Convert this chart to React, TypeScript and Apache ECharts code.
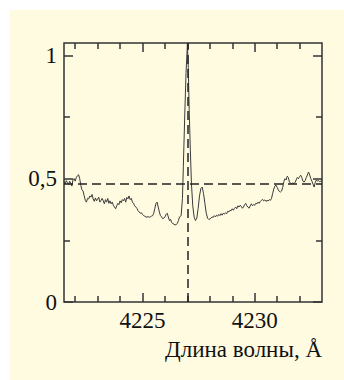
import React, { useEffect, useRef } from "react";
import * as echarts from "echarts";

// Wavelength (Å) and normalized intensity
const wavelengths = [
  4221.5, 4221.55, 4221.6, 4221.65, 4221.7, 4221.75, 4221.8, 4221.85, 4221.9, 4221.95,
  4222.0, 4222.05, 4222.1, 4222.15, 4222.2, 4222.25, 4222.3, 4222.35, 4222.4, 4222.45,
  4222.5, 4222.55, 4222.6, 4222.65, 4222.7, 4222.75, 4222.8, 4222.85, 4222.9, 4222.95,
  4223.0, 4223.05, 4223.1, 4223.15, 4223.2, 4223.25, 4223.3, 4223.35, 4223.4, 4223.45,
  4223.5, 4223.55, 4223.6, 4223.65, 4223.7, 4223.75, 4223.8, 4223.85, 4223.9, 4223.95,
  4224.0, 4224.05, 4224.1, 4224.15, 4224.2, 4224.25, 4224.3, 4224.35, 4224.4, 4224.45,
  4224.5, 4224.55, 4224.6, 4224.65, 4224.7, 4224.75, 4224.8, 4224.85, 4224.9, 4224.95,
  4225.0, 4225.05, 4225.1, 4225.15, 4225.2, 4225.25, 4225.3, 4225.35, 4225.4, 4225.45,
  4225.5, 4225.55, 4225.6, 4225.65, 4225.7, 4225.75, 4225.8, 4225.85, 4225.9, 4225.95,
  4226.0, 4226.05, 4226.1, 4226.15, 4226.2, 4226.25, 4226.3, 4226.35, 4226.4, 4226.45,
  4226.5, 4226.55, 4226.6, 4226.65, 4226.72, 4226.78, 4226.82, 4226.88, 4226.94, 4227.0,
  4227.04, 4227.08, 4227.13, 4227.18, 4227.24, 4227.3, 4227.36, 4227.42, 4227.48, 4227.54,
  4227.6, 4227.66, 4227.72, 4227.78, 4227.84, 4227.9, 4227.96,
  4228.05, 4228.1, 4228.15, 4228.2, 4228.25, 4228.3, 4228.35, 4228.4, 4228.45,
  4228.5, 4228.55, 4228.6, 4228.65, 4228.7, 4228.75, 4228.8, 4228.85, 4228.9, 4228.95,
  4229.0, 4229.05, 4229.1, 4229.15, 4229.2, 4229.25, 4229.3, 4229.35, 4229.4, 4229.45,
  4229.5, 4229.55, 4229.6, 4229.65, 4229.7, 4229.75, 4229.8, 4229.85, 4229.9, 4229.95,
  4230.0, 4230.05, 4230.1, 4230.15, 4230.2, 4230.25, 4230.3, 4230.35, 4230.4, 4230.45,
  4230.5, 4230.55, 4230.6, 4230.65, 4230.7, 4230.75, 4230.8, 4230.85, 4230.9, 4230.95,
  4231.0, 4231.05, 4231.1, 4231.15, 4231.2, 4231.25, 4231.3, 4231.35, 4231.4, 4231.45,
  4231.5, 4231.55, 4231.6, 4231.65, 4231.7, 4231.75, 4231.8, 4231.85, 4231.9, 4231.95,
  4232.0, 4232.05, 4232.1, 4232.15, 4232.2, 4232.25, 4232.3, 4232.35, 4232.4, 4232.45,
  4232.5, 4232.55, 4232.6, 4232.65, 4232.7, 4232.75, 4232.8, 4232.85, 4232.9, 4232.95,
  4233.0,
];

const intensity = [
  0.49, 0.478, 0.492, 0.485, 0.475, 0.49, 0.482, 0.47, 0.495, 0.5,
  0.49, 0.505, 0.512, 0.516, 0.5, 0.472, 0.455, 0.45, 0.43, 0.412,
  0.405, 0.42, 0.418, 0.43, 0.425, 0.436, 0.418, 0.408, 0.422, 0.41,
  0.418, 0.425, 0.405, 0.412, 0.42, 0.41, 0.398, 0.415, 0.405, 0.42,
  0.4, 0.41, 0.398, 0.405, 0.392, 0.385, 0.378, 0.39, 0.4, 0.395,
  0.41, 0.402, 0.415, 0.41, 0.42, 0.405, 0.424, 0.418, 0.43, 0.415,
  0.42, 0.405, 0.4, 0.39, 0.385, 0.38, 0.37, 0.365, 0.36, 0.362,
  0.355, 0.35, 0.348, 0.345, 0.344, 0.346, 0.344, 0.345, 0.348, 0.35,
  0.36, 0.38, 0.4, 0.405, 0.385, 0.365, 0.35, 0.345, 0.338, 0.34,
  0.345, 0.355, 0.36, 0.345, 0.33, 0.335, 0.322, 0.318, 0.316, 0.312,
  0.314, 0.318, 0.33, 0.345, 0.35, 0.42, 0.55, 0.75, 0.93, 1.045,
  0.95, 0.78, 0.62, 0.48, 0.39, 0.345, 0.33, 0.34, 0.38, 0.43,
  0.46, 0.466, 0.44, 0.4, 0.36, 0.34, 0.334,
  0.34, 0.345, 0.343, 0.35, 0.345, 0.352, 0.348, 0.355, 0.35,
  0.358, 0.352, 0.36, 0.356, 0.362, 0.358, 0.368, 0.365, 0.372, 0.37,
  0.378, 0.372, 0.38, 0.385, 0.378, 0.39, 0.385, 0.392, 0.388, 0.38,
  0.385, 0.395, 0.4, 0.39, 0.385, 0.38, 0.39, 0.398, 0.39, 0.395,
  0.392, 0.4, 0.398, 0.405, 0.4, 0.408, 0.412, 0.416, 0.41, 0.414,
  0.408, 0.412, 0.41, 0.415, 0.412, 0.42, 0.44, 0.458, 0.47, 0.474,
  0.465, 0.455, 0.448, 0.446, 0.45, 0.465, 0.488, 0.5, 0.495, 0.51,
  0.505, 0.485, 0.482, 0.48, 0.483, 0.48, 0.485, 0.495, 0.505, 0.5,
  0.508, 0.514, 0.505, 0.49, 0.486, 0.492, 0.505, 0.515, 0.527, 0.515,
  0.5, 0.49, 0.478, 0.466, 0.485, 0.495, 0.49, 0.492, 0.488, 0.49,
  0.49,
];

const xMin = 4221.5;
const xMax = 4233;
const yMin = 0;
const yMax = 1.05;
const xMajorTicks = [4225, 4230];
const xMinorTicks = [4222, 4223, 4224, 4226, 4227, 4228, 4229, 4231, 4232];
const yMajorTicks = [0, 0.5, 1];
const yMinorTicks = [0.25, 0.75];
const refLevel = 0.48;
const lineCenter = 4227.0;
const xTitle = "Длина волны, Å";

const AXIS = "#333";
const FONT = "Liberation Serif";

export default function App() {
  const ref = useRef<HTMLDivElement>(null);

  useEffect(() => {
    if (!ref.current) return;
    const chart = echarts.init(ref.current, null, { renderer: "svg" });

    const xBase = (position: "bottom" | "top", ticks: number[], len: number, labels: boolean) => ({
      type: "value",
      position,
      min: xMin,
      max: xMax,
      splitLine: { show: false },
      axisLine: { show: false, onZero: false },
      axisTick: {
        show: true,
        inside: true,
        length: len,
        customValues: ticks,
        lineStyle: { color: AXIS, width: 1.5 },
      },
      axisLabel: labels
        ? {
            show: true,
            customValues: ticks,
            margin: 7,
            fontFamily: FONT,
            fontSize: 23,
            color: "#111",
            formatter: (v: number) => String(v),
          }
        : { show: false },
    });

    const yBase = (position: "left" | "right", ticks: number[], len: number, labels: boolean) => ({
      type: "value",
      position,
      min: yMin,
      max: yMax,
      splitLine: { show: false },
      axisLine: { show: false, onZero: false },
      axisTick: {
        show: true,
        inside: true,
        length: len,
        customValues: ticks,
        lineStyle: { color: AXIS, width: 1.5 },
      },
      axisLabel: labels
        ? {
            show: true,
            customValues: ticks,
            margin: 7,
            fontFamily: FONT,
            fontSize: 23,
            color: "#111",
            formatter: (v: number) => String(v).replace(".", ","),
          }
        : { show: false },
    });

    chart.setOption({
      animation: false,
      backgroundColor: "#FFFBE1",
      grid: {
        left: 54,
        top: 33,
        width: 258,
        height: 259,
        show: true,
        borderColor: AXIS,
        borderWidth: 1.5,
        backgroundColor: "transparent",
      },
      xAxis: [
        xBase("bottom", xMajorTicks, 9, true),
        xBase("bottom", xMinorTicks, 6, false),
        xBase("top", xMajorTicks, 9, false),
        xBase("top", xMinorTicks, 6, false),
      ],
      yAxis: [
        yBase("left", yMajorTicks, 9, true),
        yBase("left", yMinorTicks, 6, false),
        yBase("right", yMajorTicks, 9, false),
        yBase("right", yMinorTicks, 6, false),
      ],
      graphic: [
        {
          type: "text",
          x: 312,
          y: 339,
          style: {
            text: xTitle,
            fontFamily: FONT,
            fontSize: 23,
            fill: "#111",
            textAlign: "right",
            textVerticalAlign: "middle",
          },
        },
      ],
      series: [
        {
          type: "line",
          xAxisIndex: 0,
          yAxisIndex: 0,
          data: wavelengths.map((w, i) => [w, intensity[i]]),
          showSymbol: false,
          symbol: "none",
          lineStyle: { color: "#3a3a3a", width: 1 },
          silent: true,
          markLine: {
            silent: true,
            symbol: "none",
            label: { show: false },
            lineStyle: { color: "#222", width: 1.5, type: [9, 5] },
            data: [{ yAxis: refLevel }, { xAxis: lineCenter }],
          },
        },
      ],
    });

    return () => chart.dispose();
  }, []);

  return (
    <div style={{ position: "fixed", left: 0, top: 0, width: 344, height: 380, background: "#fff" }}>
      <div ref={ref} style={{ position: "absolute", left: 10, top: 10, width: 334, height: 370 }} />
    </div>
  );
}
